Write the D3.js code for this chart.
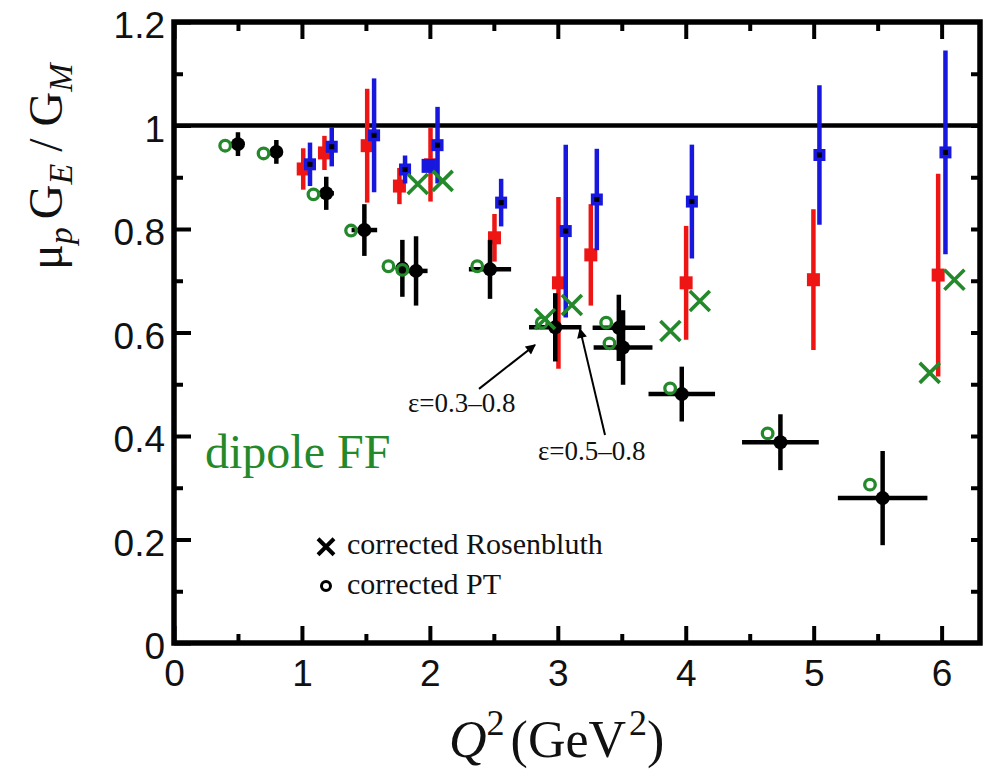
<!DOCTYPE html>
<html>
<head>
<meta charset="utf-8">
<script src="https://cdn.jsdelivr.net/npm/d3@7"></script>
<style>
  html, body { margin: 0; padding: 0; background: #fff; }
  svg { display: block; }
</style>
</head>
<body>
<svg id="chart" width="984" height="769"></svg>
<script>
// ---- axis ticks ----
const xTicks = [0, 1, 2, 3, 4, 5, 6];
const xTickLabels = ["0", "1", "2", "3", "4", "5", "6"];
const xMinorTicks = [0.5, 1.5, 2.5, 3.5, 4.5, 5.5];
const yTicks = [0, 0.2, 0.4, 0.6, 0.8, 1, 1.2];
const yTickLabels = ["0", "0.2", "0.4", "0.6", "0.8", "1", "1.2"];
const yMinorTicks = [0.1, 0.3, 0.5, 0.7, 0.9, 1.1];

// ---- polarization transfer: [Q², μG_E/G_M, ΔQ², Δratio] ----
const ptData = [
  [0.50, 0.964, 0.00, 0.023],
  [0.80, 0.949, 0.00, 0.023],
  [1.19, 0.869, 0.06, 0.032],
  [1.488, 0.798, 0.10, 0.050],
  [1.785, 0.724, 0.05, 0.055],
  [1.892, 0.719, 0.09, 0.067],
  [2.47, 0.722, 0.165, 0.057],
  [2.98, 0.610, 0.205, 0.066],
  [3.477, 0.609, 0.205, 0.064],
  [3.51, 0.571, 0.23, 0.072],
  [3.969, 0.481, 0.26, 0.053],
  [4.74, 0.388, 0.30, 0.054],
  [5.539, 0.280, 0.35, 0.091]
];

// ---- corrected polarization transfer: [Q², ratio] ----
const ptCorrected = [
  [0.40, 0.961], [0.70, 0.946], [1.09, 0.867], [1.384, 0.797],
  [1.676, 0.728], [1.785, 0.721], [2.37, 0.728], [2.875, 0.619],
  [3.378, 0.619], [3.404, 0.579], [3.878, 0.492], [4.64, 0.405],
  [5.44, 0.306]
];

// ---- Rosenbluth separations: [Q², ratio, Δratio] ----
const rosenRed = [
  [1.01, 0.916, 0.040], [1.176, 0.947, 0.033], [1.51, 0.961, 0.110],
  [1.762, 0.883, 0.035], [2.005, 0.924, 0.071], [2.505, 0.783, 0.046],
  [3.005, 0.696, 0.166], [3.258, 0.750, 0.098], [4.003, 0.696, 0.110],
  [4.998, 0.702, 0.136], [5.973, 0.711, 0.196]
];
const rosenBlue = [
  [1.063, 0.925, 0.042], [1.233, 0.959, 0.038], [1.564, 0.981, 0.110],
  [1.806, 0.915, 0.027], [2.06, 0.962, 0.074], [2.557, 0.851, 0.046],
  [3.062, 0.796, 0.167], [3.305, 0.857, 0.098], [4.048, 0.853, 0.110],
  [5.045, 0.943, 0.135], [6.03, 0.948, 0.197]
];
const rosenBluePlain = [[1.99, 0.922]];

// ---- corrected Rosenbluth: [Q², ratio] ----
const rosenCorrected = [
  [1.905, 0.887], [2.10, 0.893], [2.90, 0.626], [3.11, 0.653],
  [3.88, 0.603], [4.11, 0.661], [5.907, 0.522], [6.10, 0.702]
];

// dipole form factors give a ratio of one
const dipoleRatio = 1;

// ---- layout ----
const svg = d3.select("#chart");
const x = d3.scaleLinear().domain([0, 6.3]).range([174, 980]);
const y = d3.scaleLinear().domain([0, 1.2]).range([643, 22]);

const RED = "#ee1515", BLUE = "#1717dd", GREEN = "#23892a";
const serif = "'Liberation Serif', 'Times New Roman', serif";
const sans = "'Liberation Sans', Arial, sans-serif";

svg.append("rect").attr("width", 984).attr("height", 769).attr("fill", "#fff");

// ---- axes (ticks point inward) ----
function styleAxis(g) {
  g.select(".domain").remove();
  g.selectAll(".tick line").attr("stroke", "#000").attr("stroke-width", 4);
  g.selectAll(".tick text")
    .attr("fill", "#111")
    .style("font-family", sans)
    .style("font-size", "37px");
}

svg.append("g").attr("transform", `translate(0,${y(0)})`)
  .call(d3.axisBottom(x).tickValues(xTicks).tickSize(-17).tickPadding(17)
    .tickFormat((d, i) => xTickLabels[i]))
  .call(styleAxis);
svg.append("g").attr("transform", `translate(0,${y(0)})`)
  .call(d3.axisBottom(x).tickValues(xMinorTicks).tickSize(-9).tickFormat(""))
  .call(styleAxis);
svg.append("g").attr("transform", `translate(0,${y(1.2)})`)
  .call(d3.axisTop(x).tickValues(xTicks).tickSize(-17).tickFormat(""))
  .call(styleAxis);
svg.append("g").attr("transform", `translate(0,${y(1.2)})`)
  .call(d3.axisTop(x).tickValues(xMinorTicks).tickSize(-9).tickFormat(""))
  .call(styleAxis);

svg.append("g").attr("transform", `translate(${x(0)},0)`)
  .call(d3.axisLeft(y).tickValues(yTicks).tickSize(-17).tickPadding(9)
    .tickFormat((d, i) => yTickLabels[i]))
  .call(styleAxis)
  .call(g => g.selectAll(".tick text").attr("dy", "0.42em"));
svg.append("g").attr("transform", `translate(${x(0)},0)`)
  .call(d3.axisLeft(y).tickValues(yMinorTicks).tickSize(-9).tickFormat(""))
  .call(styleAxis);
svg.append("g").attr("transform", `translate(${x(6.3)},0)`)
  .call(d3.axisRight(y).tickValues(d3.merge([yTicks.slice(1, -1), yMinorTicks]))
    .tickSize(-9).tickFormat(""))
  .call(styleAxis);

// frame
svg.append("rect")
  .attr("x", x(0)).attr("y", y(1.2))
  .attr("width", x(6.3) - x(0)).attr("height", y(0) - y(1.2))
  .attr("fill", "none").attr("stroke", "#000").attr("stroke-width", 5.5);

// dipole reference line
svg.append("line")
  .attr("x1", x(0)).attr("x2", x(6.3))
  .attr("y1", y(dipoleRatio)).attr("y2", y(dipoleRatio))
  .attr("stroke", "#000").attr("stroke-width", 4.5);

// ---- Rosenbluth (red) ----
const red = svg.append("g");
red.selectAll("line").data(rosenRed).join("line")
  .attr("x1", d => x(d[0])).attr("x2", d => x(d[0]))
  .attr("y1", d => y(d[1] + d[2])).attr("y2", d => y(d[1] - d[2]))
  .attr("stroke", RED).attr("stroke-width", 4.5);
red.selectAll("rect").data(rosenRed).join("rect")
  .attr("x", d => x(d[0]) - 6.5).attr("y", d => y(d[1]) - 6.5)
  .attr("width", 13).attr("height", 13).attr("fill", RED);

// ---- Rosenbluth (blue) ----
const blue = svg.append("g");
blue.selectAll("line").data(rosenBlue).join("line")
  .attr("x1", d => x(d[0])).attr("x2", d => x(d[0]))
  .attr("y1", d => y(d[1] + d[2])).attr("y2", d => y(d[1] - d[2]))
  .attr("stroke", BLUE).attr("stroke-width", 4.5);
blue.selectAll("rect.sq").data(rosenBlue).join("rect").attr("class", "sq")
  .attr("x", d => x(d[0]) - 6).attr("y", d => y(d[1]) - 6)
  .attr("width", 12).attr("height", 12).attr("fill", BLUE);
blue.selectAll("rect.dot").data(rosenBlue).join("rect").attr("class", "dot")
  .attr("x", d => x(d[0]) - 2.5).attr("y", d => y(d[1]) - 2.5)
  .attr("width", 5).attr("height", 5).attr("fill", "#000");
blue.selectAll("rect.plain").data(rosenBluePlain).join("rect").attr("class", "plain")
  .attr("x", d => x(d[0]) - 7).attr("y", d => y(d[1]) - 7)
  .attr("width", 14).attr("height", 14).attr("fill", BLUE);

// ---- polarization transfer (black) ----
const pt = svg.append("g");
pt.selectAll("line.v").data(ptData).join("line").attr("class", "v")
  .attr("x1", d => x(d[0])).attr("x2", d => x(d[0]))
  .attr("y1", d => y(d[1] + d[3])).attr("y2", d => y(d[1] - d[3]))
  .attr("stroke", "#000").attr("stroke-width", 4.5);
pt.selectAll("line.h").data(ptData.filter(d => d[2] > 0)).join("line").attr("class", "h")
  .attr("x1", d => x(d[0] - d[2])).attr("x2", d => x(d[0] + d[2]))
  .attr("y1", d => y(d[1])).attr("y2", d => y(d[1]))
  .attr("stroke", "#000").attr("stroke-width", 4.5);
pt.selectAll("circle").data(ptData).join("circle")
  .attr("cx", d => x(d[0])).attr("cy", d => y(d[1])).attr("r", 7)
  .attr("fill", "#000");

// ---- corrected values (green) ----
const corr = svg.append("g");
corr.selectAll("circle").data(ptCorrected).join("circle")
  .attr("cx", d => x(d[0])).attr("cy", d => y(d[1])).attr("r", 5.3)
  .attr("fill", "none").attr("stroke", GREEN).attr("stroke-width", 3.3);
const cross = s => `M${-s},${-s}L${s},${s}M${-s},${s}L${s},${-s}`;
corr.selectAll("path").data(rosenCorrected).join("path")
  .attr("transform", d => `translate(${x(d[0])},${y(d[1])})`)
  .attr("d", cross(10))
  .attr("fill", "none").attr("stroke", GREEN).attr("stroke-width", 3.6);

// ---- annotations ----
svg.append("defs").append("marker")
  .attr("id", "head").attr("viewBox", "0 0 10 10")
  .attr("refX", 9).attr("refY", 5)
  .attr("markerWidth", 6).attr("markerHeight", 5)
  .attr("markerUnits", "strokeWidth").attr("orient", "auto")
  .append("path").attr("d", "M0,0L10,5L0,10z").attr("fill", "#000");

const arrows = [
  { from: [2.384, 0.491], to: [2.822, 0.576] },
  { from: [3.369, 0.402], to: [3.173, 0.607] }
];
svg.append("g").selectAll("line").data(arrows).join("line")
  .attr("x1", d => x(d.from[0])).attr("y1", d => y(d.from[1]))
  .attr("x2", d => x(d.to[0])).attr("y2", d => y(d.to[1]))
  .attr("stroke", "#000").attr("stroke-width", 2)
  .attr("marker-end", "url(#head)");

const notes = [
  { text: "ε=0.3–0.8", q: 1.829, r: 0.447 },
  { text: "ε=0.5–0.8", q: 2.845, r: 0.354 }
];
svg.append("g").selectAll("text").data(notes).join("text")
  .attr("x", d => x(d.q)).attr("y", d => y(d.r))
  .style("font-family", serif).style("font-size", "27px")
  .attr("fill", "#111").text(d => d.text);

svg.append("text")
  .attr("x", x(0.242)).attr("y", y(0.338))
  .style("font-family", serif).style("font-size", "48px")
  .attr("fill", GREEN).text("dipole FF");

// ---- legend ----
const legend = svg.append("g");
legend.append("path")
  .attr("transform", `translate(${x(1.188)},${y(0.186)})`)
  .attr("d", cross(8)).attr("stroke", "#000").attr("stroke-width", 4);
legend.append("circle")
  .attr("cx", x(1.188)).attr("cy", y(0.110)).attr("r", 4.5)
  .attr("fill", "none").attr("stroke", "#000").attr("stroke-width", 3);
legend.append("text").attr("x", x(1.352)).attr("y", y(0.172))
  .style("font-family", serif).style("font-size", "30px").attr("fill", "#111")
  .text("corrected Rosenbluth");
legend.append("text").attr("x", x(1.352)).attr("y", y(0.095))
  .style("font-family", serif).style("font-size", "30px").attr("fill", "#111")
  .text("corrected PT");

// ---- axis titles ----
const xTitle = svg.append("text")
  .attr("x", 449).attr("y", 757)
  .style("font-family", serif).style("font-size", "52px").attr("fill", "#111");
xTitle.append("tspan").style("font-style", "italic").text("Q");
xTitle.append("tspan").attr("dy", -22).style("font-size", "36px").text("2");
xTitle.append("tspan").attr("dy", 22).attr("dx", 6).text("(GeV");
xTitle.append("tspan").attr("dy", -22).attr("dx", 3).style("font-size", "36px").text("2");
xTitle.append("tspan").attr("dy", 22).text(")");

const yTitle = svg.append("text")
  .attr("transform", "translate(62,270) rotate(-90)")
  .style("font-family", serif).style("font-size", "48px").attr("fill", "#111");
yTitle.append("tspan").text("μ");
yTitle.append("tspan").attr("dy", 10).style("font-size", "34px").style("font-style", "italic").text("p");
yTitle.append("tspan").attr("dy", -10).attr("dx", 8).text("G");
yTitle.append("tspan").attr("dy", 10).style("font-size", "34px").style("font-style", "italic").text("E");
yTitle.append("tspan").attr("dy", -10).text(" / G");
yTitle.append("tspan").attr("dy", 10).style("font-size", "34px").style("font-style", "italic").text("M");
</script>
</body>
</html>
